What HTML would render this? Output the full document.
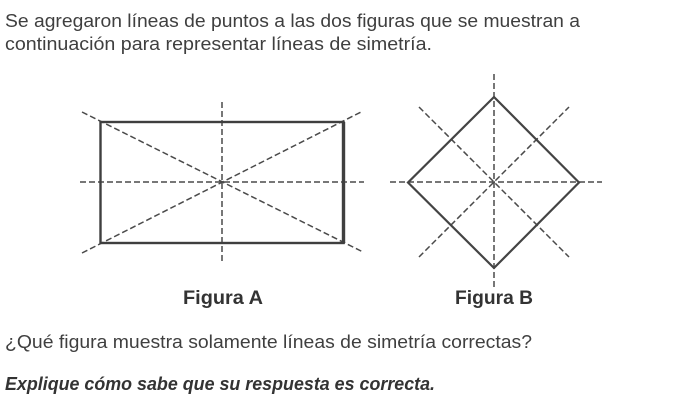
<!DOCTYPE html>
<html lang="es">
<head>
<meta charset="utf-8">
<style>
html,body{margin:0;padding:0;background:#fff;width:687px;height:407px;overflow:hidden}
svg{display:block}
text{font-family:"Liberation Sans",sans-serif;fill:#3f3f3f}
.t{font-size:18px}
.b{font-size:19px;font-weight:bold;fill:#333}
.d{stroke:#4a4a4a;stroke-width:1.5;stroke-dasharray:6 3;fill:none}
</style>
</head>
<body>
<svg width="687" height="407" viewBox="0 0 687 407" xmlns="http://www.w3.org/2000/svg">
<text class="t" x="5" y="27" textLength="575" lengthAdjust="spacingAndGlyphs">Se agregaron líneas de puntos a las dos figuras que se muestran a</text>
<text class="t" x="5" y="50" textLength="427" lengthAdjust="spacingAndGlyphs">continuación para representar líneas de simetría.</text>

<line class="d" x1="222" y1="102" x2="222" y2="262"/>
<line class="d" x1="80" y1="182" x2="364" y2="182"/>
<line class="d" x1="82" y1="112" x2="363" y2="252"/>
<line class="d" x1="82" y1="253" x2="363" y2="111"/>
<rect x="100.5" y="122" width="243" height="121" fill="none" stroke="#3f3f3f" stroke-width="2.4"/>
<line x1="343.5" y1="122" x2="343.5" y2="243" stroke="#3f3f3f" stroke-width="3.4"/>

<line class="d" x1="494" y1="74" x2="494" y2="287"/>
<line class="d" x1="390" y1="182" x2="602" y2="182"/>
<line class="d" x1="419" y1="107" x2="569" y2="257"/>
<line class="d" x1="419" y1="257" x2="569" y2="107"/>
<polygon points="494,97 579,182.5 494,268 408,182.5" fill="none" stroke="#444" stroke-width="2.2"/>

<text class="b" x="183" y="304" textLength="80" lengthAdjust="spacingAndGlyphs">Figura A</text>
<text class="b" x="455" y="304" textLength="78" lengthAdjust="spacingAndGlyphs">Figura B</text>

<text class="t" x="5" y="348" textLength="527" lengthAdjust="spacingAndGlyphs">¿Qué figura muestra solamente líneas de simetría correctas?</text>
<text class="t" x="5" y="390" textLength="430" lengthAdjust="spacingAndGlyphs" style="font-weight:bold;font-style:italic;fill:#333">Explique cómo sabe que su respuesta es correcta.</text>
</svg>
</body>
</html>
